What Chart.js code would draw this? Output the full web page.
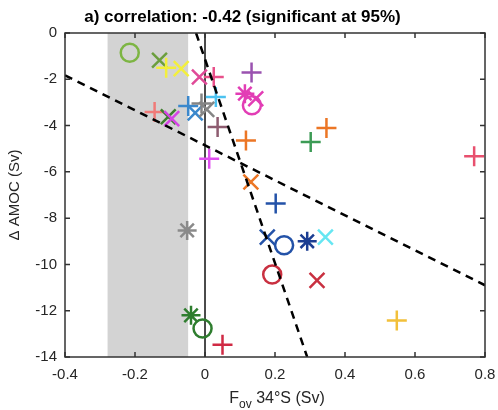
<!DOCTYPE html>
<html><head><meta charset="utf-8">
<script src="https://cdn.jsdelivr.net/npm/chart.js@4/dist/chart.umd.min.js"></script>
<style>html,body{margin:0;padding:0;background:#fff;}#wrap{width:498px;height:410px;position:relative;}</style>
</head><body><div id="wrap"><canvas id="c" width="498" height="410"></canvas></div>
<script>
// ---- data ----
const titleText = 'a) correlation: -0.42 (significant at 95%)';
const yAxisTitle = 'Δ AMOC (Sv)';
const xAxisTitleMain = 'F';
const xAxisTitleSub = 'ov';
const xAxisTitleRest = ' 34°S (Sv)';

const xTicks = [-0.4, -0.2, 0, 0.2, 0.4, 0.6, 0.8];
const xTickLabels = ['-0.4', '-0.2', '0', '0.2', '0.4', '0.6', '0.8'];
const yTicks = [0, -2, -4, -6, -8, -10, -12, -14];
const yTickLabels = ['0', '-2', '-4', '-6', '-8', '-10', '-12', '-14'];

const fovValues = [
  -0.215, -0.13, -0.111, -0.068, -0.016, 0.025, 0.133, 0.114, 0.145, 0.134,
  0.031, -0.048, -0.028, -0.01, 0.005, 0.036, 0.117, 0.012, 0.131, -0.144,
  -0.105, -0.095, 0.302, 0.347, 0.769, 0.202, 0.178, 0.226, 0.292, 0.344,
  0.192, 0.32, -0.051, -0.04, -0.007, 0.05, 0.548
];
const amocValues = [
  -0.85, -1.18, -1.5, -1.54, -1.9, -1.9, -1.71, -2.62, -2.84, -3.12,
  -2.77, -3.15, -3.45, -3.05, -3.3, -4.06, -4.64, -5.43, -6.44, -3.41,
  -3.62, -3.7, -4.71, -4.1, -5.33, -7.37, -8.82, -9.17, -9.0, -8.82,
  -10.44, -10.69, -8.53, -12.2, -12.77, -13.47, -12.42
];
const markerShapes = [
  'circle', 'crossRot', 'cross', 'crossRot', 'crossRot', 'cross', 'cross', 'star', 'crossRot', 'circle',
  'cross', 'cross', 'crossRot', 'cross', 'crossRot', 'cross', 'cross', 'cross', 'crossRot', 'cross',
  'crossRot', 'crossRot', 'cross', 'cross', 'cross', 'cross', 'crossRot', 'circle', 'star', 'crossRot',
  'circle', 'crossRot', 'star', 'star', 'circle', 'cross', 'cross'
];
const markerColors = [
  '#7db543', '#6b9e3d', '#f3ef3c', '#f3ef3c', '#e04a98', '#e8508a', '#9a52b0', '#e23db5', '#e23db5', '#e23db5',
  '#4cc2f0', '#3b88cc', '#3b88cc', '#858585', '#858585', '#8e5c70', '#ec7625', '#e04ef0', '#ec7625', '#f07a78',
  '#3d7d2e', '#d444e4', '#3c9b55', '#ec7625', '#e8506e', '#2352a8', '#2352a8', '#2352a8', '#1c3e92', '#66e6f2',
  '#c93040', '#c93040', '#8a8a8a', '#2e7d2e', '#2e7d2e', '#d02a44', '#f2c03a'
];

const bandX = [-0.279, -0.0475];
const bandY = [0, 0];
const zeroLineX = [0, 0];
const zeroLineY = [0, -14];
const steepLineX = [-0.0256, 0.292];
const steepLineY = [0, -14];
const shallowLineX = [-0.4, 0.8];
const shallowLineY = [-1.83, -10.9];

// ---- styles ----
const markerRadius = { circle: 9, cross: 10, crossRot: 10.5, star: 9.5 };
const axisColor = '#333333';
const fontFamily = '"Liberation Sans", Arial, Helvetica, sans-serif';

const toPts = (xs, ys) => xs.map((x, i) => ({ x: x, y: ys[i] }));

const framePlugin = {
  id: 'frame',
  afterDatasetsDraw(chart) {
    const { ctx, chartArea: a, scales } = chart;
    ctx.save();
    ctx.strokeStyle = axisColor;
    ctx.lineWidth = 1.5;
    ctx.strokeRect(a.left, a.top, a.right - a.left, a.bottom - a.top);
    ctx.beginPath();
    const L = 5;
    xTicks.forEach(v => {
      const px = scales.x.getPixelForValue(v);
      ctx.moveTo(px, a.bottom); ctx.lineTo(px, a.bottom - L);
      ctx.moveTo(px, a.top); ctx.lineTo(px, a.top + L);
    });
    yTicks.forEach(v => {
      const py = scales.y.getPixelForValue(v);
      ctx.moveTo(a.left, py); ctx.lineTo(a.left + L, py);
      ctx.moveTo(a.right, py); ctx.lineTo(a.right - L, py);
    });
    ctx.stroke();
    ctx.restore();
  },
  afterDraw(chart) {
    const { ctx, chartArea: a } = chart;
    ctx.save();
    ctx.fillStyle = '#000';
    ctx.textBaseline = 'alphabetic';
    ctx.textAlign = 'center';
    ctx.font = 'bold 17px ' + fontFamily;
    ctx.fillText(titleText, 242.5, 22);
    // x-axis title with subscript
    ctx.fillStyle = '#262626';
    ctx.textAlign = 'left';
    const mainFont = '16px ' + fontFamily;
    const subFont = '12px ' + fontFamily;
    ctx.font = mainFont;
    const w1 = ctx.measureText(xAxisTitleMain).width;
    const w3 = ctx.measureText(xAxisTitleRest).width;
    ctx.font = subFont;
    const w2 = ctx.measureText(xAxisTitleSub).width;
    const total = w1 + w2 + w3;
    const cx = (a.left + a.right) / 2 + 2;
    let x0 = cx - total / 2;
    const base = 403;
    ctx.font = mainFont;
    ctx.fillText(xAxisTitleMain, x0, base);
    ctx.font = subFont;
    ctx.fillText(xAxisTitleSub, x0 + w1, base + 5);
    ctx.font = mainFont;
    ctx.fillText(xAxisTitleRest, x0 + w1 + w2, base);
    ctx.restore();
  }
};

new Chart(document.getElementById('c'), {
  type: 'scatter',
  data: {
    datasets: [
      {
        type: 'line', data: toPts(bandX, bandY), fill: 'start',
        backgroundColor: '#d3d3d3', borderWidth: 0, borderColor: 'rgba(0,0,0,0)',
        pointRadius: 0, order: 10
      },
      {
        type: 'line', data: toPts(zeroLineX, zeroLineY), fill: false,
        borderColor: '#333333', borderWidth: 1, pointRadius: 0, order: 9
      },
      {
        data: toPts(fovValues, amocValues),
        pointStyle: markerShapes,
        pointRadius: markerShapes.map(s => markerRadius[s]),
        pointBorderColor: markerColors,
        pointBackgroundColor: 'rgba(0,0,0,0)',
        pointBorderWidth: 2.5,
        order: 5
      },
      {
        type: 'line', data: toPts(steepLineX, steepLineY), fill: false,
        borderColor: '#000', borderWidth: 2.5, borderDash: [8, 6], pointRadius: 0, order: 1
      },
      {
        type: 'line', data: toPts(shallowLineX, shallowLineY), fill: false,
        borderColor: '#000', borderWidth: 2.5, borderDash: [8, 6], pointRadius: 0, order: 1
      }
    ]
  },
  options: {
    responsive: false,
    animation: false,
    devicePixelRatio: 1,
    events: [],
    layout: { padding: { top: 33, right: 10.5, left: 0, bottom: 0 } },
    plugins: { legend: { display: false }, tooltip: { enabled: false }, title: { display: false } },
    scales: {
      x: {
        type: 'linear', min: -0.4, max: 0.8,
        afterBuildTicks: s => { s.ticks = xTicks.map(v => ({ value: v })); },
        afterFit: s => { s.height = 53; s.paddingLeft = 0; s.paddingRight = 0; },
        grid: { display: false, drawTicks: false },
        border: { display: false },
        ticks: {
          padding: 9, color: '#262626', font: { size: 15, family: fontFamily },
          maxRotation: 0, autoSkip: false,
          callback: (v) => { const i = xTicks.findIndex(t => Math.abs(t - v) < 1e-9); return i >= 0 ? xTickLabels[i] : ''; }
        }
      },
      y: {
        type: 'linear', min: -14, max: 0,
        afterBuildTicks: s => { s.ticks = yTicks.map(v => ({ value: v })); },
        afterFit: s => { s.width = 65; s.paddingTop = 0; s.paddingBottom = 0; },
        grid: { display: false, drawTicks: false },
        border: { display: false },
        ticks: {
          padding: 8, color: '#262626', font: { size: 15, family: fontFamily }, autoSkip: false,
          callback: (v) => { const i = yTicks.findIndex(t => Math.abs(t - v) < 1e-9); return i >= 0 ? yTickLabels[i] : ''; }
        },
        title: {
          display: true, text: yAxisTitle, color: '#262626',
          font: { size: 15, family: fontFamily }, padding: { top: 6, bottom: 0 }
        }
      }
    }
  },
  plugins: [framePlugin]
});
</script>
</body></html>
